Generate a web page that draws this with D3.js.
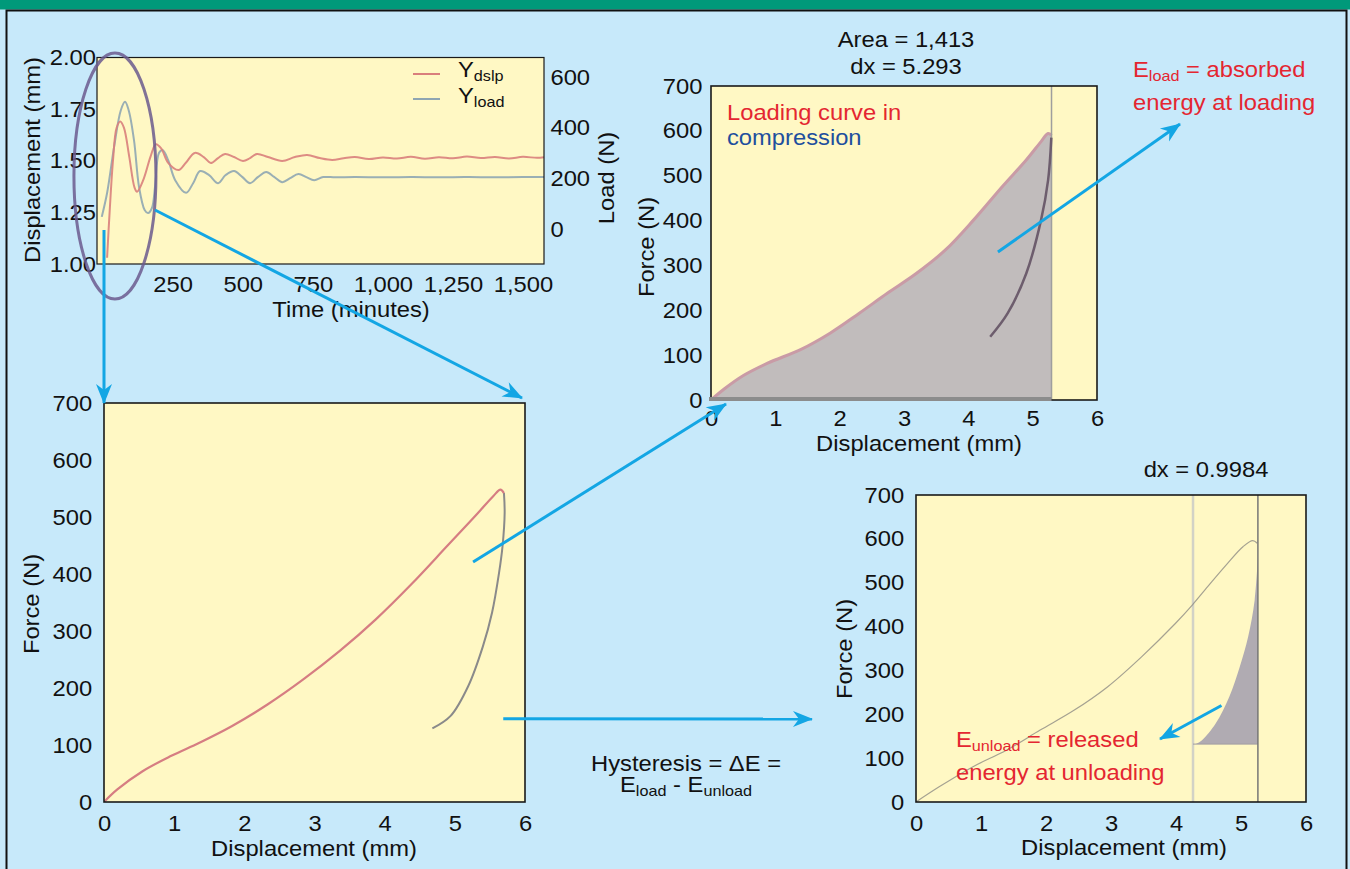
<!DOCTYPE html>
<html><head><meta charset="utf-8">
<script src="https://cdn.jsdelivr.net/npm/d3@7"></script>
<style>
body{margin:0;background:#c7e9fa;}
svg{display:block;}
text{font-family:"Liberation Sans",Arial,Helvetica,sans-serif;}
</style>
</head><body>
<svg id="c" width="1350" height="869"></svg>
<script>
// ---------------- DATA ----------------
// Top-left: time series (time in minutes)
const dslpTime = [16,25,37,50,63,76,95,114,123,146,171,190,209,234,271,297,329,361,386,412,437,469,501,526,551,590,641,686,730,775,819,860,900,950,1000,1050,1100,1150,1200,1250,1300,1350,1400,1450,1500,1550,1575];
const dslpVal  = [1.03,1.25,1.50,1.66,1.69,1.66,1.52,1.37,1.35,1.41,1.52,1.58,1.56,1.49,1.455,1.49,1.538,1.518,1.489,1.513,1.533,1.518,1.499,1.513,1.533,1.518,1.499,1.518,1.528,1.513,1.504,1.512,1.518,1.508,1.516,1.511,1.519,1.510,1.517,1.512,1.520,1.513,1.518,1.511,1.519,1.514,1.517];
const loadTime = [-3,16,41,65,80,93,112,130,150,162,176,187,201,214,234,259,298,323,348,380,412,439,469,498,526,555,584,612,641,669,699,727,755,787,830,900,1000,1100,1200,1300,1400,1500,1575];
const loadVal  = [48,142,324,469,502,469,351,166,75,63,83,166,300,312,272,193,143,181,229,213,181,213,229,206,181,206,225,206,185,201,217,205,193,205,204,205,204,205,204,205,204,205,205];
const timeTicks = [250,500,750,1000,1250,1500];
const dispTicks = [1.00,1.25,1.50,1.75,2.00];
const loadTicks = [0,200,400,600];

// Bottom-left: force vs displacement loop
const blLoadX = [0,0.19,0.55,0.96,1.36,1.82,2.33,2.84,3.36,3.87,4.38,4.89,5.30,5.55,5.65,5.70];
const blLoadF = [0,22,54,81,104,133,171,215,265,320,382,449,503,537,548,542];
const blUnX   = [5.70,5.71,5.68,5.63,5.53,5.40,5.19,4.94,4.68];
const blUnF   = [542,507,449,402,332,273,203,151,129];

// Top-right: loading curve, area up to dx
const trLoadX = [0,0.21,0.51,0.88,1.40,1.85,2.30,2.74,3.19,3.64,4.08,4.53,4.90,5.13,5.24,5.293];
const trLoadF = [0,25,55,82,113,149,193,238,282,334,401,476,535,576,594,590];
const trUnX   = [5.29,5.24,5.13,4.90,4.61,4.34];
const trUnF   = [585,490,401,282,193,141];
const trDx = 5.293;

// Bottom-right: unloading energy
const brLoadX = [0,0.35,0.87,1.39,1.91,2.43,2.95,3.47,3.99,4.25,4.51,4.77,5.03,5.18,5.25];
const brLoadF = [0,34,80,118,164,209,263,331,407,449,495,540,582,596,590];
const brUnX   = [4.30,4.40,4.61,4.82,4.98,5.11,5.21,5.26];
const brUnF   = [132,141,179,240,308,377,460,559];
const brLineL = 4.262, brLineR = 5.26, brBase = 132;

const forceTicks = [0,100,200,300,400,500,600,700];
const dispMmTicks = [0,1,2,3,4,5,6];

// ---------------- DRAW ----------------
const W=1350,H=869,SX=1.08;
const FONT='"Liberation Sans",Arial,Helvetica,sans-serif';
const svg=d3.select("#c");
const defs=svg.append("defs");
defs.append("marker").attr("id","ah").attr("viewBox","-20 -10 22 20")
  .attr("refX",0).attr("refY",0).attr("markerWidth",22).attr("markerHeight",20)
  .attr("markerUnits","userSpaceOnUse").attr("orient","auto")
  .append("path").attr("d","M1,0 L-19,-8 L-13,0 L-19,8 Z").attr("fill","#13a6e4");

svg.append("rect").attr("width",W).attr("height",H).attr("fill","#c7e9fa");
svg.append("rect").attr("width",W).attr("height",9.5).attr("fill","#00997a");
svg.append("path").attr("d","M6.5,869 V10.5 H1346.5 V869").attr("fill","none").attr("stroke","#111").attr("stroke-width",2);

function label(x,y,str,o={}){
  const t=svg.append("text")
   .attr("transform",`translate(${x},${y}) rotate(${o.rotate||0}) scale(${SX},1)`)
   .attr("text-anchor",o.anchor||"middle").attr("dominant-baseline","central")
   .attr("font-size",o.size||22).attr("fill",o.fill||"#111");
  if(Array.isArray(str)){
    str.forEach(([s,sub])=>{
      t.append("tspan").attr("font-size",sub?15:(o.size||22)).attr("dy",sub?6:(t.node().childNodes.length?-6:0)).text(s);
    });
  } else t.text(str);
  return t;
}
function styleAxis(g){
  g.select(".domain").remove();
  g.attr("font-size",22).attr("font-family",FONT);
  g.selectAll("text").attr("fill","#111").attr("transform",`scale(${SX},1)`);
}
let clipN=0;
function plotBox(b,fill){
  const id="clip"+(clipN++);
  defs.append("clipPath").attr("id",id).append("rect").attr("x",b.x0).attr("y",b.y0).attr("width",b.x1-b.x0).attr("height",b.y1-b.y0);
  svg.append("rect").attr("x",b.x0).attr("y",b.y0).attr("width",b.x1-b.x0).attr("height",b.y1-b.y0).attr("fill",fill||"#fff8c4");
  return svg.append("g").attr("clip-path",`url(#${id})`);
}
function frame(b,w){
  svg.append("rect").attr("x",b.x0).attr("y",b.y0).attr("width",b.x1-b.x0).attr("height",b.y1-b.y0)
   .attr("fill","none").attr("stroke","#1a1a1a").attr("stroke-width",w||1.5);
}
const zip=(a,b)=>a.map((v,i)=>[v,b[i]]);
const curve=d3.curveCatmullRom.alpha(0.5);
const fmtInt=d3.format("d");

// ---- Top-left chart ----
const tl={x0:97,x1:544,y0:57.5,y1:264};
const xT=d3.scaleLinear().domain([-20,1575]).range([tl.x0,tl.x1]);
const yD=d3.scaleLinear().domain([1,2]).range([tl.y1,tl.y0]);
const yL=d3.scaleLinear().domain([-138,677]).range([tl.y1,tl.y0]);
{
  const g=plotBox(tl);
  g.append("path").datum(zip(loadTime,loadVal)).attr("fill","none").attr("stroke","#8fa6b2").attr("stroke-width",2).attr("opacity",0.9)
   .attr("d",d3.line().x(d=>xT(d[0])).y(d=>yL(d[1])).curve(curve));
  g.append("path").datum(zip(dslpTime,dslpVal)).attr("fill","none").attr("stroke","#d97f7c").attr("stroke-width",2).attr("opacity",0.9)
   .attr("d",d3.line().x(d=>xT(d[0])).y(d=>yD(d[1])).curve(curve));
  frame(tl,1.2);
  svg.append("g").attr("transform",`translate(${tl.x0},0)`).call(d3.axisLeft(yD).tickValues(dispTicks).tickFormat(d3.format(".2f")).tickSize(0).tickPadding(1)).call(styleAxis);
  svg.append("g").attr("transform",`translate(0,${tl.y1})`).call(d3.axisBottom(xT).tickValues(timeTicks).tickFormat(d3.format(",")).tickSize(0).tickPadding(12)).call(styleAxis);
  svg.append("g").attr("transform",`translate(${tl.x1},0)`).call(d3.axisRight(yL).tickValues(loadTicks).tickFormat(fmtInt).tickSize(0).tickPadding(6)).call(styleAxis);
  label(32,160,"Displacement (mm)",{rotate:-90});
  label(351,309,"Time (minutes)");
  label(606,178,"Load (N)",{rotate:-90});
  // legend
  svg.append("line").attr("x1",413).attr("x2",440).attr("y1",74).attr("y2",74).attr("stroke","#d97f7c").attr("stroke-width",2);
  svg.append("line").attr("x1",413).attr("x2",440).attr("y1",99).attr("y2",99).attr("stroke","#8fa6b2").attr("stroke-width",2);
  label(458,75,[["Y",0],["dslp",1]],{anchor:"start"});
  label(458,101,[["Y",0],["load",1]],{anchor:"start"});
  // ellipse annotation
  svg.append("ellipse").attr("cx",xT(44)).attr("cy",yD(1.426)).attr("rx",41).attr("ry",123)
   .attr("fill","none").attr("stroke","#6b5b8e").attr("stroke-width",3).attr("opacity",0.85);
}

// ---- Bottom-left chart ----
const bl={x0:104,x1:525,y0:403,y1:802};
const xB=d3.scaleLinear().domain([0,6]).range([bl.x0,bl.x1]);
const yB=d3.scaleLinear().domain([0,700]).range([bl.y1,bl.y0]);
{
  const g=plotBox(bl);
  g.append("path").datum(zip(blUnX,blUnF)).attr("fill","none").attr("stroke","#8a8a8a").attr("stroke-width",2)
   .attr("d",d3.line().x(d=>xB(d[0])).y(d=>yB(d[1])).curve(curve));
  g.append("path").datum(zip(blLoadX,blLoadF)).attr("fill","none").attr("stroke","#d67d82").attr("stroke-width",2.2)
   .attr("d",d3.line().x(d=>xB(d[0])).y(d=>yB(d[1])).curve(curve));
  frame(bl,1.6);
  svg.append("g").attr("transform",`translate(${bl.x0},0)`).call(d3.axisLeft(yB).tickValues(forceTicks).tickFormat(fmtInt).tickSize(0).tickPadding(11)).call(styleAxis);
  svg.append("g").attr("transform",`translate(0,${bl.y1})`).call(d3.axisBottom(xB).tickValues(dispMmTicks).tickFormat(fmtInt).tickSize(0).tickPadding(13)).call(styleAxis);
  label(31,604,"Force (N)",{rotate:-90});
  label(314,848,"Displacement (mm)");
}

// ---- Top-right chart ----
const tr={x0:711,x1:1097,y0:86,y1:400};
const xR=d3.scaleLinear().domain([0,6]).range([tr.x0,tr.x1]);
const yR=d3.scaleLinear().domain([0,700]).range([tr.y1,tr.y0]);
{
  const g=plotBox(tr);
  const pts=zip(trLoadX,trLoadF);
  g.append("path").datum(pts).attr("fill","#c1bcbc")
   .attr("d",d3.area().x(d=>xR(d[0])).y0(yR(0)).y1(d=>yR(d[1])).curve(curve));
  g.append("path").datum(pts).attr("fill","none").attr("stroke","#c99ba6").attr("stroke-width",3)
   .attr("d",d3.line().x(d=>xR(d[0])).y(d=>yR(d[1])).curve(curve));
  g.append("line").attr("x1",xR(trDx)).attr("x2",xR(trDx)).attr("y1",tr.y0).attr("y2",tr.y1).attr("stroke","#9e9e9e").attr("stroke-width",1.5);
  g.append("path").datum(zip(trUnX,trUnF)).attr("fill","none").attr("stroke","#6d5d6d").attr("stroke-width",2.5)
   .attr("d",d3.line().x(d=>xR(d[0])).y(d=>yR(d[1])).curve(curve));
  frame(tr,1.6);
  svg.append("line").attr("x1",xR(0)-2).attr("x2",xR(trDx)).attr("y1",yR(0)-1).attr("y2",yR(0)-1).attr("stroke","#8c8c8c").attr("stroke-width",4);
  svg.append("g").attr("transform",`translate(${tr.x0},0)`).call(d3.axisLeft(yR).tickValues(forceTicks).tickFormat(fmtInt).tickSize(0).tickPadding(8)).call(styleAxis);
  svg.append("g").attr("transform",`translate(0,${tr.y1})`).call(d3.axisBottom(xR).tickValues(dispMmTicks).tickFormat(fmtInt).tickSize(0).tickPadding(10)).call(styleAxis);
  label(646,247,"Force (N)",{rotate:-90});
  label(919,443,"Displacement (mm)");
  label(906,39,"Area = 1,413");
  label(906,66,"dx = 5.293");
  label(727,112,"Loading curve in",{anchor:"start",fill:"#e42631"});
  label(727,137,"compression",{anchor:"start",fill:"#1e4f9e"});
  label(1133,75,[["E",0],["load",1],[" = absorbed",0]],{anchor:"start",fill:"#e42631"});
  label(1133,102,"energy at loading",{anchor:"start",fill:"#e42631"});
}

// ---- Bottom-right chart ----
const br={x0:916,x1:1306,y0:495,y1:802};
const xQ=d3.scaleLinear().domain([0,6]).range([br.x0,br.x1]);
const yQ=d3.scaleLinear().domain([0,700]).range([br.y1,br.y0]);
{
  const g=plotBox(br);
  g.append("line").attr("x1",xQ(brLineL)).attr("x2",xQ(brLineL)).attr("y1",br.y0).attr("y2",br.y1).attr("stroke","#d2d2c6").attr("stroke-width",2.5);
  g.append("path").datum(zip(brUnX,brUnF)).attr("fill","#b0abb2")
   .attr("d",d3.area().x(d=>xQ(d[0])).y0(yQ(brBase)).y1(d=>yQ(d[1])).curve(curve));
  g.append("line").attr("x1",xQ(brLineL)).attr("x2",xQ(brLineR)).attr("y1",yQ(brBase)).attr("y2",yQ(brBase)).attr("stroke","#a09ca2").attr("stroke-width",1);
  g.append("path").datum(zip(brLoadX,brLoadF)).attr("fill","none").attr("stroke","#8e8c84").attr("stroke-width",1.2).attr("opacity",0.8)
   .attr("d",d3.line().x(d=>xQ(d[0])).y(d=>yQ(d[1])).curve(curve));
  g.append("line").attr("x1",xQ(brLineR)).attr("x2",xQ(brLineR)).attr("y1",br.y0).attr("y2",br.y1).attr("stroke","#767676").attr("stroke-width",1.5);
  frame(br,1.6);
  svg.append("g").attr("transform",`translate(${br.x0},0)`).call(d3.axisLeft(yQ).tickValues(forceTicks).tickFormat(fmtInt).tickSize(0).tickPadding(11)).call(styleAxis);
  svg.append("g").attr("transform",`translate(0,${br.y1})`).call(d3.axisBottom(xQ).tickValues(dispMmTicks).tickFormat(fmtInt).tickSize(0).tickPadding(13)).call(styleAxis);
  label(844,649,"Force (N)",{rotate:-90});
  label(1124,847,"Displacement (mm)");
  label(1206,469,"dx = 0.9984");
  label(956,745,[["E",0],["unload",1],[" = released",0]],{anchor:"start",fill:"#e42631"});
  label(956,772,"energy at unloading",{anchor:"start",fill:"#e42631"});
}

// ---- Hysteresis text ----
label(686,763,"Hysteresis = \u0394E =");
label(686,790,[["E",0],["load",1],[" - E",0],["unload",1]]);

// ---- Arrows ----
const arrows=[
  [xT(5),yD(1.165), xB(0),yB(700)],
  [155,210, 522,398],
  [xB(5.26),yB(421), 726,404],
  [xR(4.46),yR(330), 1180,124],
  [xB(5.69),yB(146), 812,719],
  [xQ(4.70),yQ(220), 1160,739]
];
svg.append("g").selectAll("line").data(arrows).join("line")
  .attr("x1",d=>d[0]).attr("y1",d=>d[1]).attr("x2",d=>d[2]).attr("y2",d=>d[3])
  .attr("stroke","#13a6e4").attr("stroke-width",3).attr("marker-end","url(#ah)");
</script>
</body></html>
